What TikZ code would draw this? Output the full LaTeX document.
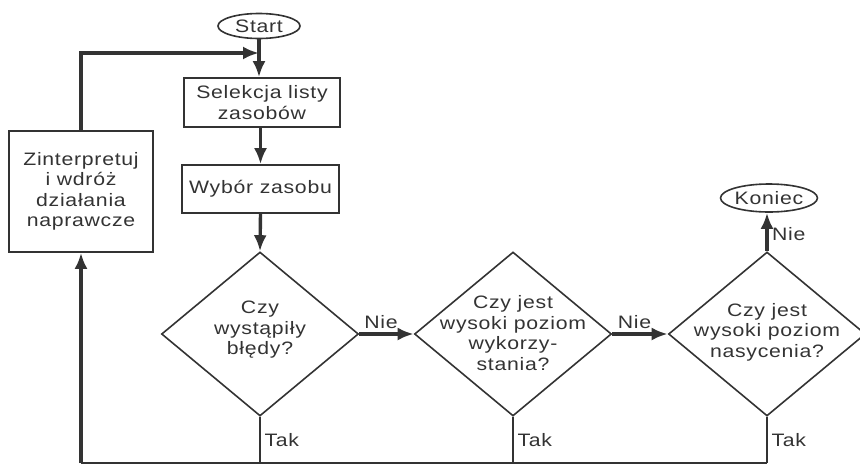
\documentclass[tikz,border=0pt]{standalone}
\usepackage{fontspec}
\setmainfont{Liberation Sans}[FakeStretch=1.18,LetterSpace=4]
\usetikzlibrary{shapes.geometric,arrows.meta}
\definecolor{ink}{HTML}{333333}

\begin{document}
\begin{tikzpicture}[x=1pt,y=-1pt,
    every node/.style={text=ink,font=\fontsize{18}{20.5}\selectfont},
    box/.style={draw=ink,rectangle,line width=1.6pt,align=center,inner sep=0pt},
    term/.style={draw=ink,ellipse,line width=1.6pt,inner sep=0pt},
    decision/.style={draw=ink,diamond,line width=1.6pt,inner sep=0pt,
      minimum width=197pt,minimum height=164pt},
    qtext/.style={align=center,inner sep=0pt},
    flow/.style={draw=ink,line width=3.4pt,-{Latex[length=16pt,width=13pt]}},
    link/.style={draw=ink,line width=3.4pt}]

  \useasboundingbox (0,0) rectangle (860,464);

  \node[term,minimum width=82pt,minimum height=25pt] (start) at (259,26) {Start};
  \node[box,minimum width=156pt,minimum height=49pt] (sel) at (262,102.5) {Selekcja listy\\zasobów};
  \node[box,minimum width=157pt,minimum height=48pt] (wyb) at (260.5,189) {Wybór zasobu};
  \node[box,minimum width=144pt,minimum height=121pt] (fix) at (81,191.5) {Zinterpretuj\\i wdróż\\działania\\naprawcze};

  \node[decision] (q1) at (260,334) {};
  \node[decision] (q2) at (513,334) {};
  \node[decision] (q3) at (767,334) {};
  \node[qtext] (q1t) at (260,330) {Czy\\wystąpiły\\błędy?};
  \node[qtext] (q2t) at (513,333) {Czy jest\\wysoki poziom\\wykorzy-\\stania?};
  \node[qtext] (q3t) at (767,332) {Czy jest\\wysoki poziom\\nasycenia?};

  \node[term,minimum width=94pt,minimum height=28pt] (end) at (769,198) {Koniec};

  \coordinate (join) at (259,53);
  \coordinate (c0) at (81,463);
  \coordinate (c1) at (260,463);
  \coordinate (c2) at (513,463);
  \coordinate (c3) at (767,463);

  \draw[link] (start.south) -- (join);
  \draw[flow] (join) -- (sel.north -| join);
  \draw[flow] (sel.south -| wyb) -- (wyb.north);
  \draw[flow] (wyb.south) -- (q1.north);

  \draw[flow] (q1.east) -- node[above,pos=0.4] (n1) {Nie} (q2.west);
  \draw[flow] (q2.east) -- node[above,pos=0.4] (n2) {Nie} (q3.west);
  \draw[flow] (q3.north) -- node[right,pos=0.45] (n3) {Nie} (end.south -| q3.north);

  % Tak branches
  \draw[link,line width=2.4pt] (q1.south) -- node[right,pos=0.5] (t1) {Tak} (c1);
  \draw[link,line width=2.4pt] (q2.south) -- node[right,pos=0.5] (t2) {Tak} (c2);
  \draw[link,line width=2.4pt] (q3.south) -- node[right,pos=0.5] (t3) {Tak} (c3);
  \draw[link,line width=2.4pt] (c3) -- (c0);

  \draw[flow] (c0) -- (fix.south);
  \draw[flow] (fix.north) |- (join);

\end{tikzpicture}
\end{document}
